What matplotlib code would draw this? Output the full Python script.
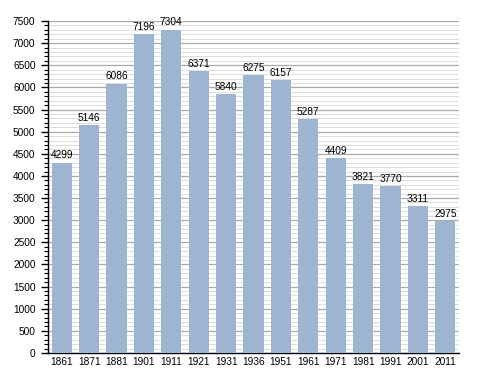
import matplotlib.pyplot as plt
import numpy as np

years = ["1861", "1871", "1881", "1901", "1911", "1921", "1931", "1936",
         "1951", "1961", "1971", "1981", "1991", "2001", "2011"]
population = [4299, 5146, 6086, 7196, 7304, 6371, 5840, 6275,
              6157, 5287, 4409, 3821, 3770, 3311, 2975]

plt.rcParams["font.family"] = ["Liberation Sans", "DejaVu Sans"]

fig = plt.figure(figsize=(4.88, 3.73), dpi=100)
ax = fig.add_axes([48 / 488, 20 / 373, 411 / 488, 332 / 373])

x = np.arange(len(years))
ax.bar(x, population, width=0.73, color="#9db5d0", zorder=3)
for xi, v in zip(x, population):
    ax.text(xi, v + 50, str(v), ha="center", va="bottom", fontsize=7.3, zorder=4)

ax.set_xlim(-0.5, len(years) - 0.5)
ax.set_ylim(0, 7500)
ax.set_yticks(np.arange(0, 7501, 500))
ax.set_yticks(np.arange(0, 7501, 100), minor=True)
ax.set_xticks(x)
ax.set_xticklabels(years)

ax.grid(axis="y", which="major", color="#aaaaaa", linewidth=0.9, zorder=0)
ax.grid(axis="y", which="minor", color="#dddddd", linewidth=0.7, zorder=0)

for s in ("top", "right"):
    ax.spines[s].set_visible(False)
ax.spines["left"].set_linewidth(1.0)
ax.spines["bottom"].set_linewidth(1.0)

ax.tick_params(axis="y", which="major", direction="out", length=5, width=1, labelsize=7.3, pad=4)
ax.tick_params(axis="y", which="minor", direction="out", length=3, width=0.8)
ax.tick_params(axis="x", length=0, labelsize=7.3, pad=3)

fig.savefig("out.png", dpi=100)
